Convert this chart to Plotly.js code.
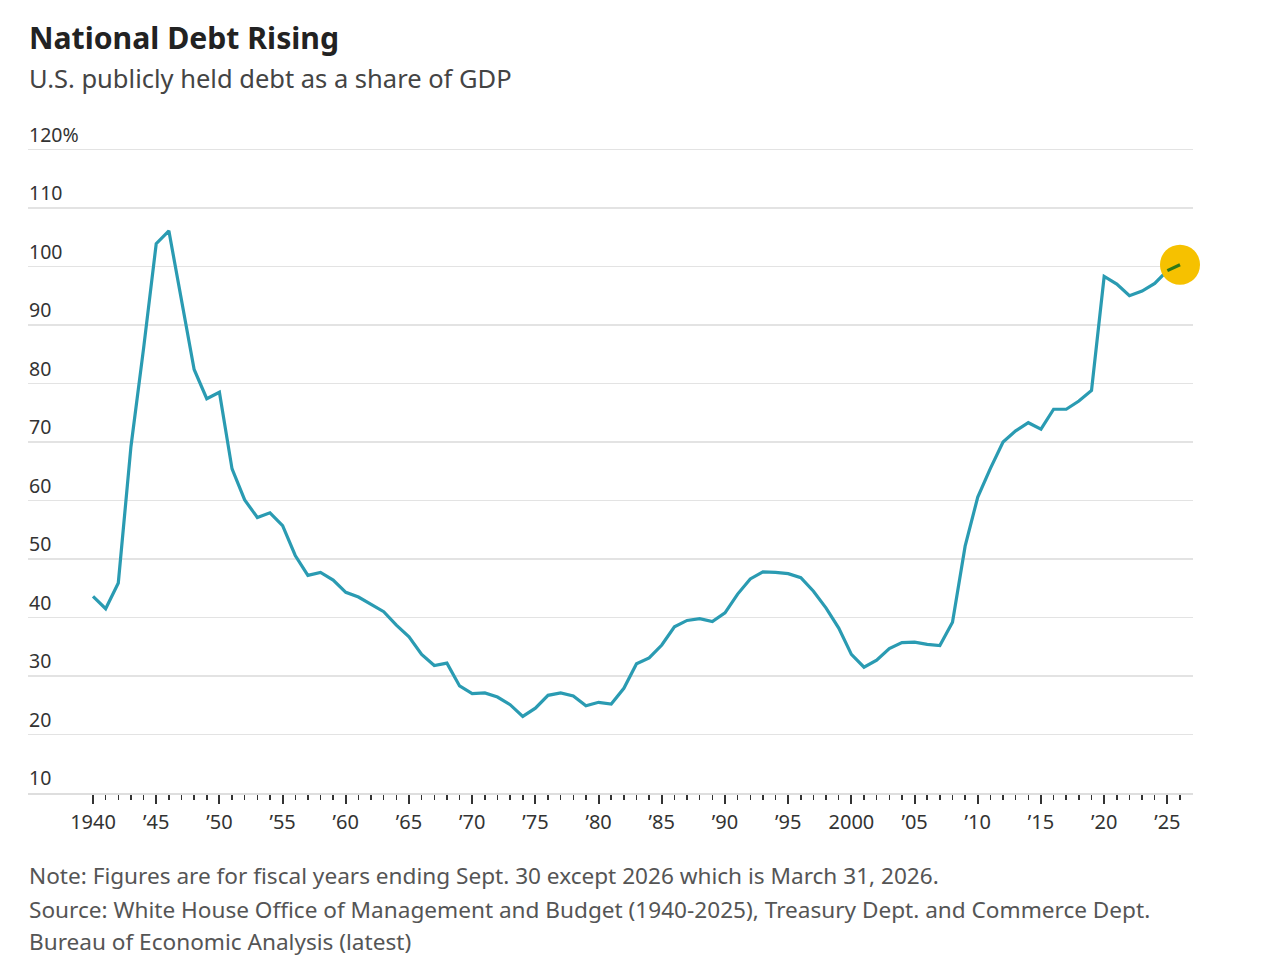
<!DOCTYPE html>
<html>
<head>
<meta charset="utf-8">
<script src="https://cdn.plot.ly/plotly-3.0.1.min.js"></script>
<style>
  html, body { margin: 0; padding: 0; background: #fff; }
  #chart { width: 1267px; height: 978px; }
</style>
</head>
<body>
<div id="chart"></div>
<script>
// ---- Data ----
const years = [
  1940,1941,1942,1943,1944,1945,1946,1947,1948,1949,
  1950,1951,1952,1953,1954,1955,1956,1957,1958,1959,
  1960,1961,1962,1963,1964,1965,1966,1967,1968,1969,
  1970,1971,1972,1973,1974,1975,1976,1977,1978,1979,
  1980,1981,1982,1983,1984,1985,1986,1987,1988,1989,
  1990,1991,1992,1993,1994,1995,1996,1997,1998,1999,
  2000,2001,2002,2003,2004,2005,2006,2007,2008,2009,
  2010,2011,2012,2013,2014,2015,2016,2017,2018,2019,
  2020,2021,2022,2023,2024,2025,2026
];
const debtPctGDP = [
  43.6, 41.5, 45.9, 69.2, 86.0, 103.9, 106.1, 93.9, 82.4, 77.4,
  78.5, 65.4, 60.1, 57.1, 57.9, 55.7, 50.6, 47.2, 47.7, 46.4,
  44.3, 43.5, 42.3, 41.0, 38.7, 36.7, 33.7, 31.8, 32.2, 28.3,
  27.0, 27.1, 26.4, 25.1, 23.1, 24.5, 26.7, 27.1, 26.6, 24.9,
  25.5, 25.2, 27.9, 32.1, 33.1, 35.3, 38.4, 39.5, 39.8, 39.3,
  40.8, 44.0, 46.6, 47.8, 47.7, 47.5, 46.8, 44.5, 41.6, 38.2,
  33.7, 31.5, 32.7, 34.7, 35.7, 35.8, 35.4, 35.2, 39.2, 52.2,
  60.6, 65.5, 70.0, 71.9, 73.3, 72.2, 75.6, 75.6, 77.0, 78.8,
  98.3, 97.0, 95.0, 95.8, 97.1, 99.3, 100.3
];
const xTickVals = [1940,1945,1950,1955,1960,1965,1970,1975,1980,1985,1990,1995,2000,2005,2010,2015,2020,2025];
const xTickText = ['1940','\u201945','\u201950','\u201955','\u201960','\u201965','\u201970','\u201975','\u201980','\u201985','\u201990','\u201995','2000','\u201905','\u201910','\u201915','\u201920','\u201925'];
const yTickVals = [10,20,30,40,50,60,70,80,90,100,110,120];
const yTickText = ['10','20','30','40','50','60','70','80','90','100','110','120%'];

const titleText = 'National Debt Rising';
const subtitleText = 'U.S. publicly held debt as a share of GDP';
const noteLines = [
  'Note: Figures are for fiscal years ending Sept. 30 except 2026 which is March 31, 2026.',
  'Source: White House Office of Management and Budget (1940-2025), Treasury Dept. and Commerce Dept.',
  'Bureau of Economic Analysis (latest)'
];

// ---- Styling ----
const FONT = 'Noto Sans, Open Sans, sans-serif';
const W = 1267, H = 978;
const PX_PER_UNIT = 643 / 110;
const Y_TOP = 120.6;
const M = { l: 28, r: 74, t: Math.round(150 - (Y_TOP - 120) * PX_PER_UNIT), b: 185 };
const plotW = W - M.l - M.r, plotH = H - M.t - M.b;
const pxToPaperX = px => (px - M.l) / plotW;
const pxToPaperY = py => (H - M.b - py) / plotH;

const lastIdx = years.length - 1;

const traces = [
  {
    x: years, y: debtPctGDP, type: 'scatter', mode: 'lines',
    line: { color: '#2a9bb2', width: 3.2 }, hoverinfo: 'skip'
  },
  {
    x: [years[lastIdx]], y: [debtPctGDP[lastIdx]], type: 'scatter', mode: 'markers',
    marker: { size: 40, color: '#f6c100', line: { width: 0 } }, hoverinfo: 'skip', cliponaxis: false
  },
  {
    x: years.slice(lastIdx - 1), y: debtPctGDP.slice(lastIdx - 1), type: 'scatter', mode: 'lines',
    line: { color: '#2e7816', width: 3.2 }, hoverinfo: 'skip', cliponaxis: false
  }
];

const annotations = [];
annotations.push({
  text: subtitleText, xref: 'paper', yref: 'paper',
  x: pxToPaperX(27), y: pxToPaperY(78), xanchor: 'left', yanchor: 'middle',
  showarrow: false, font: { family: FONT, size: 25.5, color: '#444' }
});
yTickVals.forEach((v, i) => {
  annotations.push({
    text: yTickText[i], xref: 'paper', yref: 'y',
    x: pxToPaperX(27), y: v, xanchor: 'left', yanchor: 'bottom', yshift: 0,
    showarrow: false, font: { family: FONT, size: 19.5, color: '#333' }
  });
});
const noteY = [875, 909, 941];
noteLines.forEach((t, i) => {
  annotations.push({
    text: t, xref: 'paper', yref: 'paper',
    x: pxToPaperX(27), y: pxToPaperY(noteY[i]), xanchor: 'left', yanchor: 'middle',
    showarrow: false, font: { family: FONT, size: 22.6, color: '#555' }
  });
});

const x0 = 1940 - (93 - M.l) / 12.635;
const x1 = 2026 + (W - M.r - 1180) / 12.635;

const layout = {
  width: W, height: H,
  margin: { l: M.l, r: M.r, t: M.t, b: M.b, pad: 0 },
  paper_bgcolor: '#ffffff', plot_bgcolor: '#ffffff',
  showlegend: false, hovermode: false,
  title: {
    text: titleText, xref: 'container', yref: 'container',
    x: 29 / W, xanchor: 'left', y: 1 - 38 / H, yanchor: 'middle',
    font: { family: FONT, size: 30.2, color: '#222', weight: 700 }
  },
  xaxis: {
    range: [x0, x1], tickmode: 'array', tickvals: xTickVals, ticktext: xTickText,
    ticks: 'outside', ticklen: 9, tickwidth: 2, tickcolor: '#333',
    showgrid: false, zeroline: false, showline: true, linecolor: '#dedede', linewidth: 2,
    tickfont: { family: FONT, size: 20, color: '#333' }, ticklabelstandoff: 1,
    minor: { tickmode: 'array', tickvals: years, ticks: 'outside', ticklen: 5, tickwidth: 1.5, tickcolor: '#333', showgrid: false },
    fixedrange: true
  },
  yaxis: {
    range: [10, Y_TOP], tickmode: 'array', tickvals: yTickVals, showticklabels: false,
    ticks: '', showgrid: true, gridcolor: '#e3e3e3', gridwidth: 1.5, zeroline: false,
    showline: false, fixedrange: true
  },
  annotations: annotations
};

Plotly.newPlot('chart', traces, layout, { displayModeBar: false, staticPlot: true });
</script>
</body>
</html>
